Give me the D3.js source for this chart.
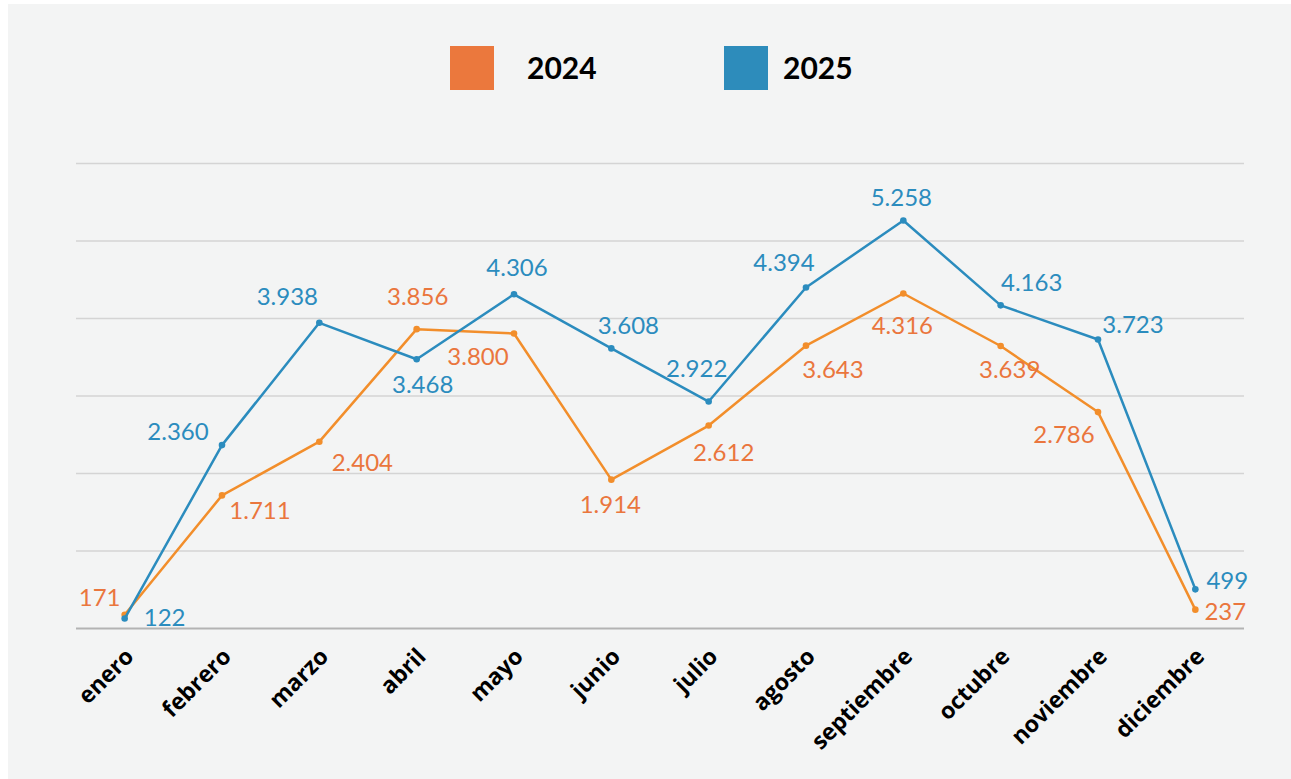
<!DOCTYPE html>
<html>
<head>
<meta charset="utf-8">
<script src="https://cdn.jsdelivr.net/npm/d3@7"></script>
<style>
  body { margin: 0; background: #fff; }
  text { font-family: Lato, "Open Sans", sans-serif; }
  .month text { font-family: "Open Sans", sans-serif; }
</style>
</head>
<body>
<script>
// Data
var months = ["enero", "febrero", "marzo", "abril", "mayo", "junio", "julio",
  "agosto", "septiembre", "octubre", "noviembre", "diciembre"];
var values2024 = [171, 1711, 2404, 3856, 3800, 1914, 2612, 3643, 4316, 3639, 2786, 237];
var values2025 = [122, 2360, 3938, 3468, 4306, 3608, 2922, 4394, 5258, 4163, 3723, 499];
var seriesNames = ["2024", "2025"];
var yTicks = [0, 1000, 2000, 3000, 4000, 5000, 6000];

// label placement (dx, dy from the point)
var labelPos2024 = [[-25, -9], [38, 24], [43, 29], [1, -24], [-36, 31], [-1, 33],
  [15, 35], [27, 32], [-1, 40], [9, 32], [-34, 31], [30, 10]];
var labelPos2025 = [[40, 7], [-44, -5], [-32, -18], [6, 34], [3, -18], [17, -14],
  [-12, -25], [-22, -16], [-2, -15], [31, -14], [35, -6], [32, 0]];

var colors = { line2024: "#f28e2b", label2024: "#ea763d", c2025: "#2b8cbe",
  legend2024: "#eb783d", legend2025: "#2d8cbb" };

var W = 1291, H = 779;
var margin = { top: 163, right: 47, bottom: 151, left: 76 };
var width = W - margin.left - margin.right;
var height = H - margin.top - margin.bottom;

var root = d3.select("body").append("svg")
  .attr("width", W)
  .attr("height", H);

// panel background
root.append("rect")
  .attr("x", 8).attr("y", 4)
  .attr("width", W - 8).attr("height", H - 4)
  .attr("fill", "#f3f4f4");

var svg = root.append("g")
  .attr("transform", "translate(" + margin.left + "," + margin.top + ")");

var x = d3.scalePoint()
  .domain(months)
  .range([0, width])
  .padding(0.5);

var y = d3.scaleLinear()
  .domain([0, 6000])
  .range([height, 0]);

var es = d3.formatLocale({ decimal: ",", thousands: ".", grouping: [3], currency: ["", "€"] });
var fmt = es.format(",d");

// gridlines
var yAxis = d3.axisLeft(y)
  .tickValues(yTicks)
  .tickSize(-width)
  .tickFormat("");

var gy = svg.append("g").call(yAxis);
gy.select(".domain").remove();
gy.selectAll(".tick line")
  .attr("stroke", function(d) { return d === 0 ? "#b3b3b3" : "#d4d4d4"; })
  .attr("stroke-width", function(d) { return d === 0 ? 2 : 1.3; });

// x axis labels
var xAxis = d3.axisBottom(x).tickSize(0).tickPadding(0);
var gx = svg.append("g")
  .attr("class", "month")
  .attr("transform", "translate(0," + height + ")")
  .call(xAxis);
gx.select(".domain").remove();
gx.selectAll(".tick text")
  .attr("fill", "#000")
  .attr("font-size", 23)
  .attr("font-weight", "bold")
  .attr("text-anchor", "end")
  .attr("x", 0).attr("y", 0).attr("dy", 0)
  .attr("transform", "translate(10,30) rotate(-45)");

var series = [
  { name: "2024", values: values2024, line: colors.line2024, label: colors.label2024, pos: labelPos2024 },
  { name: "2025", values: values2025, line: colors.c2025, label: colors.c2025, pos: labelPos2025 }
];

var line = d3.line()
  .x(function(d, i) { return x(months[i]); })
  .y(function(d) { return y(d); });

series.forEach(function(s) {
  svg.append("path")
    .datum(s.values)
    .attr("fill", "none")
    .attr("stroke", s.line)
    .attr("stroke-width", 2.5)
    .attr("stroke-linejoin", "round")
    .attr("d", line);

  svg.selectAll(null)
    .data(s.values)
    .enter().append("circle")
    .attr("cx", function(d, i) { return x(months[i]); })
    .attr("cy", function(d) { return y(d); })
    .attr("r", 3.3)
    .attr("fill", s.line);
});

series.forEach(function(s) {
  svg.selectAll(null)
    .data(s.values)
    .enter().append("text")
    .attr("x", function(d, i) { return x(months[i]) + s.pos[i][0]; })
    .attr("y", function(d, i) { return y(d) + s.pos[i][1]; })
    .attr("text-anchor", "middle")
    .attr("font-size", 24)
    .attr("fill", s.label)
    .text(function(d) { return fmt(d); });
});

// legend
var legend = root.append("g");
var legendX = [450, 724];
var legendTextX = [527, 783];
var legendColors = [colors.legend2024, colors.legend2025];
seriesNames.forEach(function(n, i) {
  legend.append("rect")
    .attr("x", legendX[i]).attr("y", 46)
    .attr("width", 44).attr("height", 44)
    .attr("fill", legendColors[i]);
  legend.append("text")
    .attr("x", legendTextX[i]).attr("y", 68)
    .attr("dy", "0.35em")
    .attr("font-size", 30)
    .attr("font-weight", "bold")
    .attr("fill", "#000")
    .text(n);
});
</script>
</body>
</html>
